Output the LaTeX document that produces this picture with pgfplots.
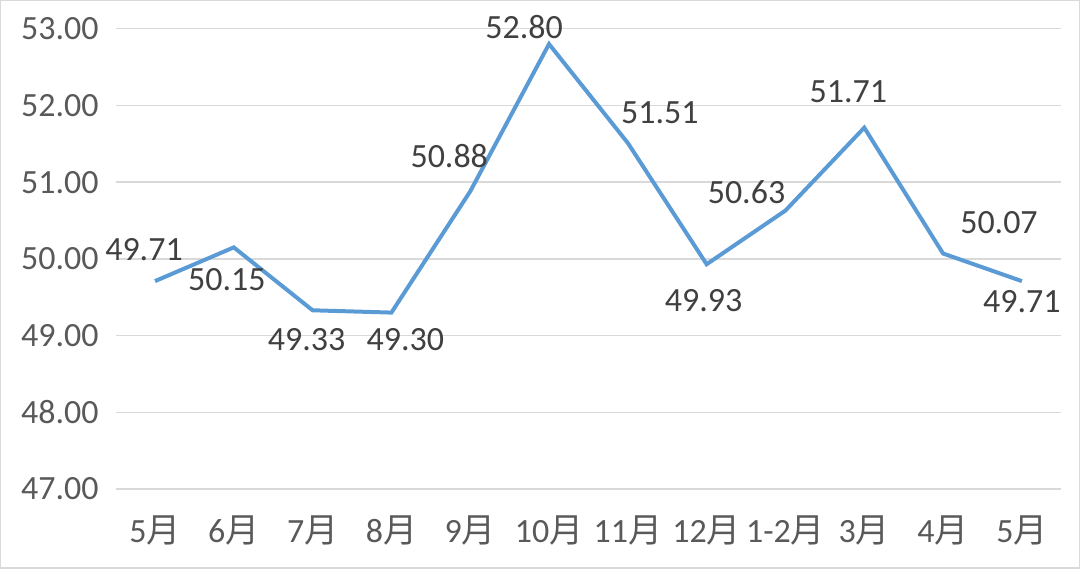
\documentclass[border=0pt]{standalone}
\usepackage{pgfplots}
\pgfplotsset{compat=1.18}
\usepackage{pgfplotstable}
\usepackage{fontspec}
\setmainfont{Carlito}
\newfontfamily\cjk{Noto Sans CJK SC}
\usetikzlibrary{calc}
\definecolor{linec}{HTML}{5B9BD5}
\definecolor{gridc}{HTML}{D9D9D9}
\definecolor{tickc}{HTML}{595959}
\definecolor{labc}{HTML}{404040}
\pgfplotstableread{
x y dx dy
0 49.71 -5.5 16
1 50.15 -3.5 -16
2 49.33 -3 -14.5
3 49.30 7 -13.5
4 50.88 -10.5 17.5
5 52.80 -12.5 8.5
6 51.51 16 15
7 49.93 -1.5 -18
8 50.63 -19.5 9
9 51.71 -8 18
10 50.07 28 15.5
11 49.71 0 -10.5
}\data
\begin{document}
\begin{tikzpicture}
\begin{axis}[
  scale only axis,
  width=473.5pt, height=230.5pt,
  xmin=-0.5, xmax=11.5,
  ymin=47, ymax=53,
  ytick={47,48,...,53},
  xtick=data,
  xticklabels={5{\cjk 月},6{\cjk 月},7{\cjk 月},8{\cjk 月},9{\cjk 月},10{\cjk 月},11{\cjk 月},12{\cjk 月},1-2{\cjk 月},3{\cjk 月},4{\cjk 月},5{\cjk 月}},
  axis line style={draw=none},
  major tick length=0pt,
  ymajorgrids,
  grid style={gridc, line width=0.75pt},
  /pgf/number format/assume math mode=true,
  yticklabel={\pgfmathprintnumber[fixed,fixed zerofill,precision=2]{\tick}},
  yticklabel style={font=\fontsize{17}{19}\selectfont, text=tickc, xshift=-5pt},
  xticklabel style={font=\fontsize{17}{19}\selectfont, text=tickc, yshift=-10pt},
  clip=false,
]
\addplot[linec, line width=2pt, mark=none,
  nodes near coords={\pgfmathprintnumber[fixed,fixed zerofill,precision=2]{\pgfplotspointmeta}},
  point meta=y,
  visualization depends on={\thisrow{dx}\as\dx},
  visualization depends on={\thisrow{dy}\as\dy},
  every node near coord/.append style={font=\fontsize{17}{19}\selectfont, text=labc, anchor=center, xshift=\dx pt, yshift=\dy pt},
] table[x=x,y=y] {\data};
\end{axis}
\pgfresetboundingbox
\path[use as bounding box, draw=gridc, line width=0.75pt] ($(current axis.south west)+(-57.5pt,-39.5pt)$) rectangle ($(current axis.north east)+(9pt,14pt)$);
\end{tikzpicture}
\end{document}
